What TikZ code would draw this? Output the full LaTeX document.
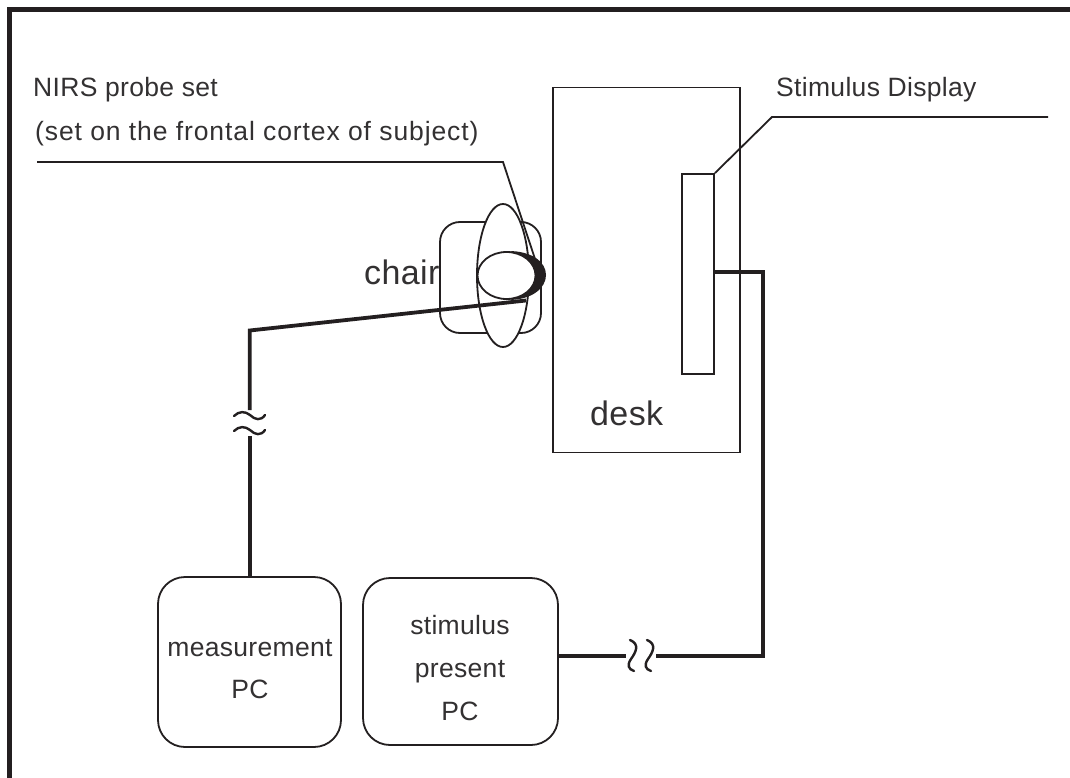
\documentclass[tikz,border=0pt]{standalone}
\usepackage{fontspec}
\usetikzlibrary{shapes.geometric}
\setmainfont[LetterSpace=1.2]{Liberation Sans}
\definecolor{ink}{HTML}{231F20}
\definecolor{soft}{HTML}{333132}
\tikzset{
  thinline/.style={draw=ink,line width=1.8pt},
  cable/.style={draw=ink,line width=3.8pt},
  wave/.style={draw=ink,line width=2.4pt,line cap=round},
  pcbox/.style={thinline,rounded corners=27pt,fill=white},
  txt/.style={text=soft,inner sep=0pt,anchor=base,font=\fontsize{26.5}{30}\selectfont},
  bigtxt/.style={text=soft,inner sep=0pt,anchor=base,font=\fontsize{34}{38}\selectfont}
}
\begin{document}
\begin{tikzpicture}[x=1pt,y=-1pt]
\useasboundingbox (0,0) rectangle (1070,778);
\fill[white] (0,0) rectangle (1070,778);
% frame
\coordinate (fa) at (9.5,778);
\coordinate (fb) at (9.5,9.5);
\coordinate (fc) at (1070,9.5);
\draw[draw=ink,line width=5.5pt] (fa) -- (fb) -- (fc);
% desk and display
\node[thinline,minimum width=187pt,minimum height=365pt,inner sep=0pt] (desk) at (646.5,270) {};
\node[thinline,minimum width=32pt,minimum height=200pt,inner sep=0pt] (display) at (698,274) {};
% chair
\node[thinline,rounded corners=20pt,minimum width=101pt,minimum height=111pt,inner sep=0pt] (chair) at (490.5,277.5) {};
% body
\node[thinline,fill=white,ellipse,minimum width=52pt,minimum height=143pt,inner sep=0pt] (body) at (503,275.5) {};
% probe crescent
\fill[ink] (508,251) .. controls (532,251) and (546,262) .. (546,275) .. controls (546,288) and (532,300) .. (508,300) .. controls (522,298) and (535,290) .. (535,275) .. controls (535,260) and (522,253) .. (508,251) -- cycle;
% head
\node[thinline,ellipse,fill=white,minimum width=58pt,minimum height=47pt,inner sep=0pt] (head) at (506.5,275.5) {};
% text
\node[txt,anchor=base west] (nirs) at (33,97) {NIRS probe set};
\node[txt,anchor=base west] (nirs2) at (35,141) {\addfontfeature{LetterSpace=3.4}(set on the frontal cortex of subject)};
\node[txt,anchor=base west] (stim) at (776,97) {Stimulus Display};
\node[bigtxt,anchor=base west] (chairtext) at (364,284) {chair};
\node[bigtxt,anchor=base west] (desktext) at (590,425) {desk};
% leaders
\coordinate (la) at (37,162);
\coordinate (lb) at (503,162);
\coordinate (lc) at (536,262);
\draw[thinline] (la) -- (lb) -- (lc);
\coordinate (ld) at (1048,117);
\coordinate (le) at (772,117);
\draw[thinline] (ld) -- (le) -- (display.north east);
% PCs
\node[pcbox,minimum width=183pt,minimum height=170pt,inner sep=0pt] (mpc) at (249.5,662) {};
\node[txt] (mpc1) at (250,656) {measurement};
\node[txt] (mpc2) at (250,698) {PC};
\node[pcbox,minimum width=195pt,minimum height=167pt,inner sep=0pt] (spc) at (460.5,661.5) {};
\node[txt] (spc1) at (460,634) {stimulus};
\node[txt] (spc2) at (460,677) {present};
\node[txt] (spc3) at (460,720) {PC};
% cables
\coordinate (ca) at (526,300.5);
\coordinate (cb) at (249.7,330.5);
\coordinate (cc) at (249.7,410);
\coordinate (cd) at (249.7,436);
\draw[cable,line join=miter] (ca) -- (cb) -- (cc);
\draw[cable] (cd) -- (mpc.north -| cd);
\coordinate (da) at (714,272);
\coordinate (db) at (763,272);
\coordinate (dc) at (763,656);
\coordinate (dd) at (656,656);
\coordinate (de) at (626,656);
\draw[cable] (display.east |- da) -- (db) -- (dc) -- (dd);
\draw[cable] (spc.east |- de) -- (de);
% break marks
\draw[wave] (234,416) .. controls (239,411) and (245,411) .. (250,415) .. controls (255,420) and (261,421) .. (265,415);
\draw[wave] (234,431) .. controls (239,426) and (245,426) .. (250,430) .. controls (255,435) and (261,436) .. (265,430);
\draw[wave] (630,640) .. controls (640,644) and (636,652) .. (631,659) .. controls (627,665) and (628,669) .. (634,671);
\draw[wave] (647,640) .. controls (657,644) and (653,652) .. (648,659) .. controls (644,665) and (645,669) .. (651,671);
\end{tikzpicture}
\end{document}
